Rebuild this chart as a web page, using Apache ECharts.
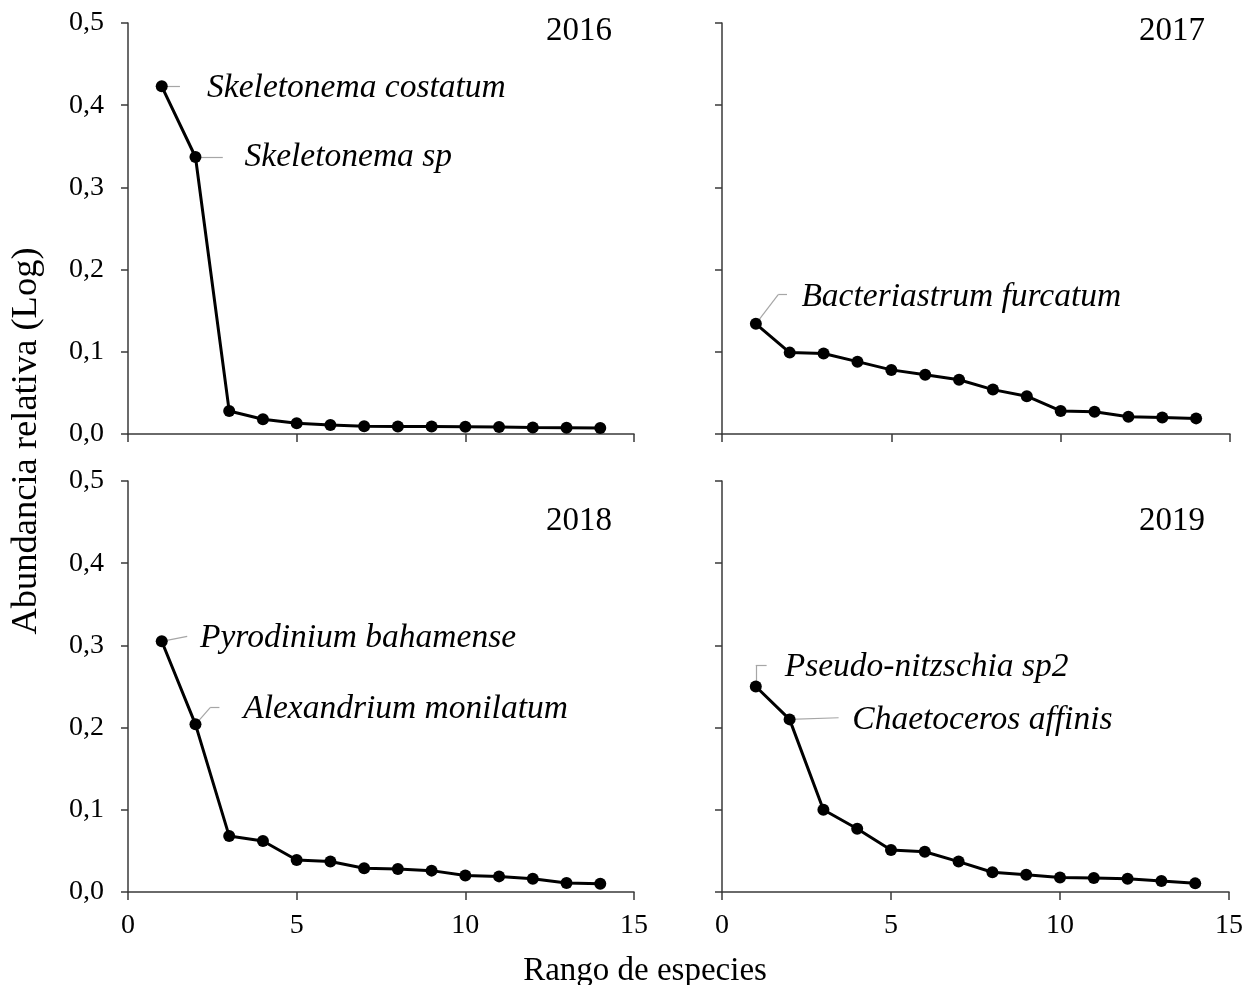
<!DOCTYPE html>
<html>
<head>
<meta charset="utf-8">
<script src="https://cdn.jsdelivr.net/npm/echarts@6/dist/echarts.min.js"></script>
<style>
html,body{margin:0;padding:0;background:#fff;}
#chart{width:1246px;height:985px;}
</style>
</head>
<body>
<div id="chart"></div>
<script>
// ---- data ----
const ranks = [1,2,3,4,5,6,7,8,9,10,11,12,13,14];
const y2016 = [0.423,0.337,0.028,0.018,0.013,0.011,0.0095,0.009,0.009,0.0088,0.0085,0.008,0.0077,0.0072];
const y2017 = [0.134,0.099,0.098,0.088,0.078,0.072,0.066,0.054,0.046,0.028,0.027,0.021,0.020,0.019];
const y2018 = [0.305,0.204,0.068,0.062,0.039,0.037,0.029,0.028,0.026,0.020,0.019,0.016,0.011,0.010];
const y2019 = [0.250,0.210,0.100,0.077,0.051,0.049,0.037,0.024,0.021,0.0175,0.017,0.016,0.0135,0.0105];
const years = ['2016','2017','2018','2019'];
const xTicks = [0,5,10,15];
const yTickStep = 0.1;
const labels2016 = ['Skeletonema costatum','Skeletonema sp'];
const labels2017 = ['Bacteriastrum furcatum'];
const labels2018 = ['Pyrodinium bahamense','Alexandrium monilatum'];
const labels2019 = ['Pseudo-nitzschia sp2','Chaetoceros affinis'];
const yTitle = 'Abundancia relativa (Log)';
const xTitle = 'Rango de especies';

// ---- layout ----
const FONT = '"Liberation Serif", "Times New Roman", serif';
const grids = [
  {left:128, top:23, width:506, height:411},
  {left:722, top:23, width:508, height:411},
  {left:128, top:481, width:506, height:411},
  {left:722, top:481, width:508, height:411}
];
const axisColor = '#3a3a3a';
const series = [y2016,y2017,y2018,y2019];

function xAxis(i){
  const bottom = i >= 2;
  return {
    type:'value', gridIndex:i, min:xTicks[0], max:xTicks[xTicks.length-1], interval:xTicks[1]-xTicks[0],
    axisLine:{show:true, onZero:false, lineStyle:{color:axisColor, width:1.5}},
    axisTick:{show:true, length:8, inside:false, lineStyle:{color:axisColor, width:1.5}},
    axisLabel:{show:bottom, color:'#000', fontFamily:FONT, fontSize:28, margin:20},
    splitLine:{show:false}
  };
}
function yAxis(i){
  const left = i % 2 === 0;
  return {
    type:'value', gridIndex:i, min:0, max:0.5, interval:yTickStep,
    axisLine:{show:true, lineStyle:{color:axisColor, width:1.5}},
    axisTick:{show:true, length:7, lineStyle:{color:axisColor, width:1.5}},
    axisLabel:{show:left, color:'#000', fontFamily:FONT, fontSize:28, margin:24,
      formatter: v => v.toFixed(1).replace('.', ',')},
    splitLine:{show:false}
  };
}

const leaderStyle = {color:'#a6a6a6', width:1.2, type:'solid'};
const textStyle = {show:true, position:'right', distance:0, color:'#000',
  fontFamily:FONT, fontStyle:'italic', fontSize:33.5};

// leader paths and text anchors (data space) for the annotated species
const annotations = [
  { lines: [[[1, y2016[0]],[1.54, y2016[0]]], [[2, y2016[1]],[2.81, y2016[1]]]],
    texts: [{name:labels2016[0], coord:[2.33, 0.421]}, {name:labels2016[1], coord:[3.44, 0.337]}] },
  { lines: [[[1, y2017[0]],[1.66, 0.1695]], [[1.66, 0.1695],[1.92, 0.1695]]],
    texts: [{name:labels2017[0], coord:[2.33, 0.166]}] },
  { lines: [[[1, y2018[0]],[1.755, 0.311]], [[2, y2018[1]],[2.45, 0.2248]], [[2.45, 0.2248],[2.71, 0.2248]]],
    texts: [{name:labels2018[0], coord:[2.12, 0.309]}, {name:labels2018[1], coord:[3.4, 0.222]}] },
  { lines: [[[1, y2019[0]],[1.0, 0.276]], [[1.0, 0.276],[1.32, 0.276]], [[2, y2019[1]],[3.45, 0.212]]],
    texts: [{name:labels2019[0], coord:[1.84, 0.274]}, {name:labels2019[1], coord:[3.84, 0.209]}] }
];

const yearStyle = {fontFamily:FONT, fontSize:33, fontWeight:'normal', color:'#000'};
const option = {
  animation:false,
  backgroundColor:'#fff',
  grid: grids,
  xAxis: [0,1,2,3].map(xAxis),
  yAxis: [0,1,2,3].map(yAxis),
  title: [
    {text:years[0], right:634, top:15},
    {text:years[1], right:41, top:15},
    {text:years[2], right:634, top:505},
    {text:years[3], right:41, top:505}
  ].map(t => Object.assign(t, {padding:0, textStyle:yearStyle})),
  graphic: [
    {type:'text', x:8, y:441, rotation:Math.PI/2,
      style:{text:yTitle, font:'36.5px ' + FONT, fill:'#000', textAlign:'center', textVerticalAlign:'top'}},
    {type:'text', x:645, y:971,
      style:{text:xTitle, font:'33px ' + FONT, fill:'#000', textAlign:'center', textVerticalAlign:'middle'}}
  ],
  series: series.map((vals, i) => ({
    type:'line', xAxisIndex:i, yAxisIndex:i,
    data: ranks.map((r, k) => [r, vals[k]]),
    symbol:'circle', symbolSize:12,
    lineStyle:{color:'#000', width:3},
    itemStyle:{color:'#000'},
    z:3,
    markLine:{
      silent:true, symbol:'none', animation:false, z:2,
      lineStyle:leaderStyle, label:{show:false},
      data: annotations[i].lines.map(seg => [{coord:seg[0]},{coord:seg[1]}])
    },
    markPoint:{
      silent:true, symbol:'circle', symbolSize:1, itemStyle:{color:'rgba(0,0,0,0)'},
      label: Object.assign({formatter: p => p.name}, textStyle),
      data: annotations[i].texts.map(t => ({name:t.name, coord:t.coord}))
    }
  }))
};

const chart = echarts.init(document.getElementById('chart'), null, {renderer:'canvas'});
chart.setOption(option);
</script>
</body>
</html>
